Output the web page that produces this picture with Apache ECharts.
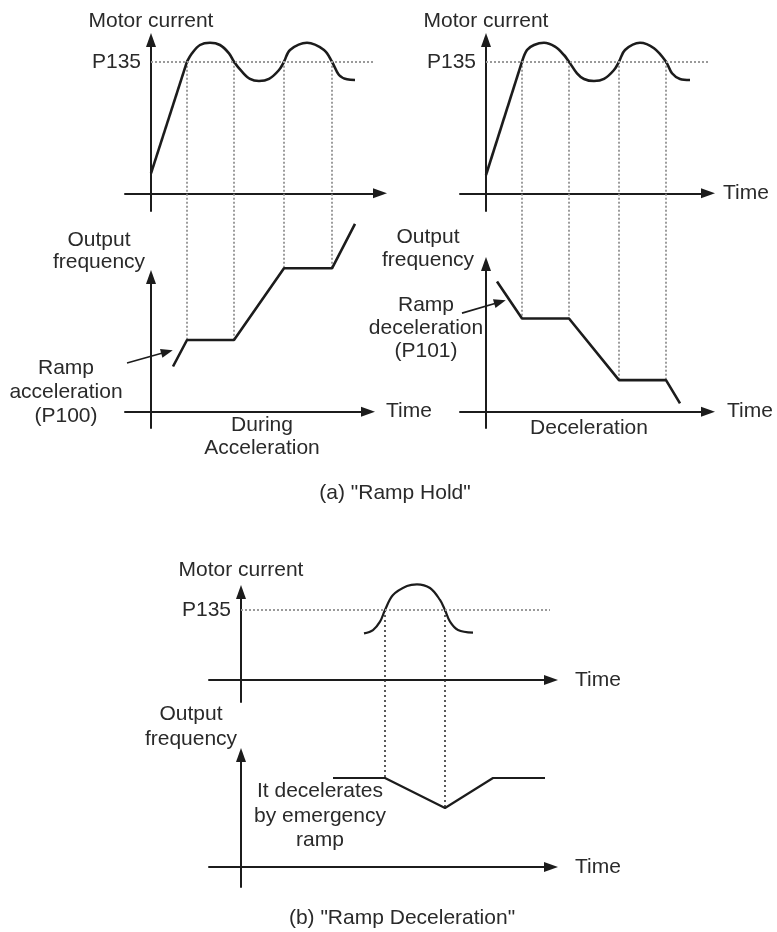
<!DOCTYPE html>
<html>
<head>
<meta charset="utf-8">
<script src="https://cdn.jsdelivr.net/npm/echarts@6/dist/echarts.min.js"></script>
<style>
  html, body { margin: 0; padding: 0; background: #ffffff; }
  #chart { width: 777px; height: 932px; }
</style>
</head>
<body>
<div id="chart"></div>
<script>
// Current traces are given relative to the limit P135 (P135 = 100),
// frequency traces in Hz, time in arbitrary units from the axis origin.
const P135 = 100;

// (a) "Ramp Hold" during acceleration
const accelCurrentRamp = [[0, 15.2], [3.6, 100]];
const accelCurrentWave = [
  [3.6, 100], [4.1, 106.4], [4.9, 112.7], [5.9, 114.4], [6.9, 112.7], [7.8, 106.4],
  [8.3, 100], [9.1, 92.4], [9.9, 86.9], [10.8, 85.3], [11.8, 86.9], [12.8, 93.7],
  [13.3, 100], [13.9, 108.9], [15.6, 114.4], [17.3, 108.9], [18.1, 100],
  [18.8, 89.9], [19.6, 86.6], [20.4, 86.1]
];
const accelFrequency = [[2.2, 12.6], [3.6, 20], [8.3, 20], [13.3, 40], [18.1, 40], [20.4, 52.4]];
const accelHoldEdges = [3.6, 8.3, 13.3, 18.1];
const accelPointer = [[-2.4, 13.6], [1.6, 16.7]];

// (a) "Ramp Hold" during deceleration
const decelCurrentRamp = [[0, 13.9], [3.6, 100]];
const decelCurrentWave = [
  [3.6, 100], [4.1, 108.9], [4.8, 112.7], [5.8, 114.4], [6.9, 111.4], [7.8, 105.1],
  [8.3, 100], [9.1, 91.2], [9.8, 86.9], [10.8, 85.3], [11.8, 86.9], [12.8, 93.7],
  [13.3, 100], [13.9, 108.9], [15.4, 114.4], [16.8, 110.2], [18.0, 100],
  [18.6, 91.2], [19.4, 86.9], [20.4, 86.1]
];
const decelFrequency = [[1.1, 36.3], [3.6, 26], [8.3, 26], [13.3, 8.8], [18.0, 8.8], [19.4, 2.3]];
const decelHoldEdges = [3.6, 8.3, 13.3, 18.0];
const decelPointer = [[-2.4, 27.5], [1.4, 30.6]];

// (b) "Ramp Deceleration"
const emergencyCurrent = [
  [12.3, 66.7], [13.2, 71.4], [13.9, 83.3], [14.4, 100], [15.2, 121.4], [16.6, 134.3],
  [17.6, 136.7], [18.9, 131.4], [19.9, 114.3], [20.4, 100], [20.9, 83.3], [21.7, 71.4],
  [23.2, 67.6]
];
const emergencyFrequency = [[9.2, 40], [14.4, 40], [20.4, 26.5], [25.2, 40], [30.4, 40]];
const emergencyEdges = [14.4, 20.4];

// ---------------------------------------------------------------------------
const FONT = '"Liberation Sans", Arial, Helvetica, sans-serif';
const INK = '#1c1c1c';
const TXT = '#2a2a2a';

// one grid per panel: accel current, accel freq, decel current, decel freq, emergency current, emergency freq
const grids = [
  { left: 125, top: 40,  width: 255, height: 171 },
  { left: 125, top: 277, width: 243, height: 151 },
  { left: 460, top: 40,  width: 248, height: 171 },
  { left: 460, top: 264, width: 248, height: 164 },
  { left: 209, top: 592, width: 342, height: 110 },
  { left: 209, top: 755, width: 342, height: 132 }
];
const xRanges = [[-2.6, 22.9], [-2.6, 21.7], [-2.6, 22.2], [-2.6, 22.2], [-3.2, 31.0], [-3.2, 31.0]];
const yRanges = [[-13.45, 116.5], [-4.55, 37.57], [-13.45, 116.5], [-4.55, 41.2], [-31.4, 125.7], [-8.99, 50.34]];
const xNames = ['', 'Time', 'Time', 'Time', 'Time', 'Time'];
const xNameGaps = [0, 18, 15, 19, 24, 24];
const yNames = ['Motor current', '', 'Motor current', '', 'Motor current', ''];
const yNameGaps = [8, 0, 8, 0, 11, 0];

const arrowLine = {
  show: true,
  onZero: true,
  symbol: ['none', 'triangle'],
  symbolSize: [10, 14],
  lineStyle: { color: INK, width: 2 }
};
const nameStyle = { fontSize: 21, fontFamily: FONT, color: TXT };

const xAxes = grids.map((g, i) => ({
  type: 'value', gridIndex: i, min: xRanges[i][0], max: xRanges[i][1],
  axisLine: arrowLine, axisTick: { show: false }, axisLabel: { show: false }, splitLine: { show: false },
  name: xNames[i], nameLocation: 'end', nameGap: xNameGaps[i],
  nameTextStyle: Object.assign({ align: 'left', verticalAlign: 'middle' }, nameStyle)
}));
const yAxes = grids.map((g, i) => ({
  type: 'value', gridIndex: i, min: yRanges[i][0], max: yRanges[i][1],
  axisLine: arrowLine, axisTick: { show: false }, axisLabel: { show: false }, splitLine: { show: false },
  name: yNames[i], nameLocation: 'end', nameGap: yNameGaps[i],
  nameTextStyle: Object.assign({ align: 'center' }, nameStyle)
}));

const curveStyle = { color: INK, width: 2.6 };

function trace(grid, data, smooth, extra) {
  return Object.assign({
    type: 'line', xAxisIndex: grid, yAxisIndex: grid, data: data,
    smooth: smooth, showSymbol: false, symbol: 'none', clip: false, silent: true,
    lineStyle: curveStyle, itemStyle: { color: INK }, z: 3
  }, extra || {});
}

function limitLine(end) {
  return {
    silent: true, symbol: ['none', 'none'], animation: false,
    lineStyle: { color: '#9a9a9a', width: 2, type: [2, 2] },
    label: { show: true, position: 'start', distance: 10, formatter: 'P135',
             fontSize: 21, fontFamily: FONT, color: TXT },
    emphasis: { disabled: true },
    data: [[{ coord: [0, P135] }, { coord: [end, P135] }]]
  };
}

function pointer(pair) {
  return {
    silent: true, symbol: ['none', 'triangle'], symbolSize: [9, 12], animation: false,
    lineStyle: { color: INK, width: 1.6, type: 'solid' },
    itemStyle: { color: INK },
    label: { show: false },
    emphasis: { disabled: true },
    data: [[{ coord: pair[0] }, { coord: pair[1] }]]
  };
}

const series = [
  trace(0, accelCurrentRamp, false),
  trace(0, accelCurrentWave, 0.35, { markLine: limitLine(22.2) }),
  trace(1, accelFrequency, false, { markLine: pointer(accelPointer) }),
  trace(2, decelCurrentRamp, false),
  trace(2, decelCurrentWave, 0.35, { markLine: limitLine(22.2) }),
  trace(3, decelFrequency, false, { markLine: pointer(decelPointer) }),
  trace(4, emergencyCurrent, 0.35, { lineStyle: { color: INK, width: 2.2 }, markLine: limitLine(30.9) }),
  trace(5, emergencyFrequency, false, { lineStyle: { color: INK, width: 2.2 } })
];

const chart = echarts.init(document.getElementById('chart'), null, { renderer: 'canvas' });
chart.setOption({
  animation: false,
  backgroundColor: '#ffffff',
  grid: grids,
  xAxis: xAxes,
  yAxis: yAxes,
  series: series
});

// free text labels
function label(str, x, y, extra) {
  return {
    type: 'text', x: x, y: y, silent: true, z: 10,
    style: Object.assign({
      text: str, fontSize: 21, fontFamily: FONT, fill: TXT,
      align: 'center', verticalAlign: 'middle', lineHeight: 24
    }, extra || {})
  };
}

// dotted guides from the P135 crossing down to the matching break of the frequency trace
function guides(curGrid, freqGrid, times, freqData, style) {
  return times.map(t => {
    const f = freqData.find(p => p[0] === t)[1];
    const a = chart.convertToPixel({ gridIndex: curGrid }, [t, P135]);
    const b = chart.convertToPixel({ gridIndex: freqGrid }, [t, f]);
    return {
      type: 'line', silent: true, z: 1,
      shape: { x1: a[0], y1: a[1], x2: b[0], y2: b[1] },
      style: style
    };
  });
}

const greyDots = { stroke: '#858585', lineWidth: 1.6, lineDash: [2, 2] };
const darkDots = { stroke: '#303030', lineWidth: 1.6, lineDash: [2, 3] };

const elements = []
  .concat(guides(0, 1, accelHoldEdges, accelFrequency, greyDots))
  .concat(guides(2, 3, decelHoldEdges, decelFrequency, greyDots))
  .concat(guides(4, 5, emergencyEdges, emergencyFrequency, darkDots))
  .concat([
    label('Output\nfrequency', 99, 251, { lineHeight: 22 }),
    label('Output\nfrequency', 428, 249, { lineHeight: 23 }),
    label('Output\nfrequency', 191, 727, { lineHeight: 25 }),
    label('Ramp\nacceleration\n(P100)', 66, 392),
    label('Ramp\ndeceleration\n(P101)', 426, 328, { lineHeight: 23 }),
    label('During\nAcceleration', 262, 437, { lineHeight: 23 }),
    label('Deceleration', 589, 428),
    label('It decelerates\nby emergency\nramp', 320, 816, { lineHeight: 24.5 }),
    label('(a) "Ramp Hold"', 395, 493),
    label('(b) "Ramp Deceleration"', 402, 918)
  ]);

chart.setOption({ graphic: { elements: elements } });
</script>
</body>
</html>
